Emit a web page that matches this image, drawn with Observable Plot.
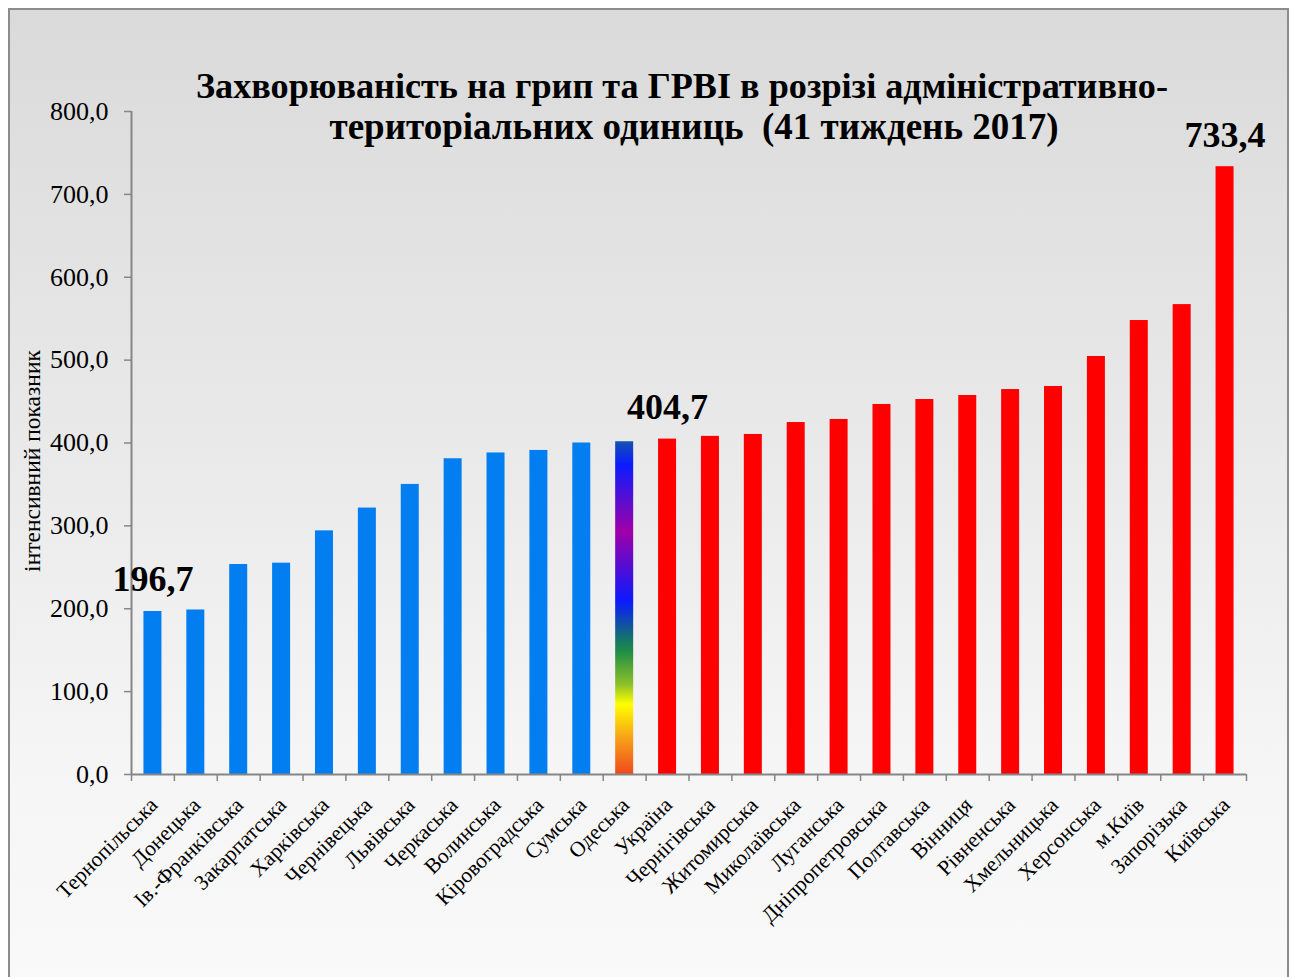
<!DOCTYPE html>
<html>
<head>
<meta charset="utf-8">
<script src="https://cdn.jsdelivr.net/npm/d3@7"></script>
<script src="https://cdn.jsdelivr.net/npm/@observablehq/plot@0.6"></script>
<style>
html, body { margin: 0; padding: 0; background: #ffffff; overflow: hidden; width: 1293px; height: 977px; }
#frame { position: absolute; left: 8px; top: 8px; width: 1277px; height: 1000px; border: 2px solid #8c8c8c;
  background: linear-gradient(to bottom, #dadada 0%, #e8e8e8 40%, #f5f5f5 75%, #fafafa 100%); }
#chart { position: absolute; left: 0; top: 0; }
#chart svg, #chart svg text { font-family: 'Liberation Serif', 'Times New Roman', serif; }
</style>
</head>
<body>
<div id="frame"></div>
<div id="chart"></div>
<script>
const categories = ["Тернопільська", "Донецька", "Ів.-Франківська", "Закарпатська", "Харківська", "Чернівецька",
  "Львівська", "Черкаська", "Волинська", "Кіровоградська", "Сумська", "Одеська", "Україна", "Чернігівська",
  "Житомирська", "Миколаївська", "Луганська", "Дніпропетровська", "Полтавська", "Вінниця", "Рівненська",
  "Хмельницька", "Херсонська", "м.Київ", "Запорізька", "Київська"];
const values = [196.7, 198.5, 253.4, 255.0, 294.0, 321.5, 350.0, 381.0, 388.0, 391.0, 400.0, 401.5, 404.7,
  408.0, 410.3, 424.7, 428.4, 446.5, 452.5, 457.3, 464.5, 468.2, 504.4, 547.8, 567.0, 733.4];
const groups = ["below", "below", "below", "below", "below", "below", "below", "below", "below", "below", "below",
  "odesa", "above", "above", "above", "above", "above", "above", "above", "above", "above", "above", "above",
  "above", "above", "above"];
const labelled = ["Тернопільська", "Україна", "Київська"];
const yTicks = [0, 100, 200, 300, 400, 500, 600, 700, 800];
const titleLines = ["Захворюваність на грип та ГРВІ в розрізі адміністративно-", "територіальних одиниць  (41 тиждень 2017)"];
const yTitle = "інтенсивний показник";

const data = categories.map((c, i) => ({region: c, value: values[i], group: groups[i]}));
const fmt = v => v.toFixed(1).replace(".", ",");

const W = 1293, H = 977, ML = 131, MR = 47, MT = 111, MB = 203;
const step = (W - ML - MR) / categories.length;
const barInset = (step - 18) / 2;
const axisColor = "#868686";
const serif = "'Liberation Serif', 'Times New Roman', serif";

function gradientDefs() {
  const defs = d3.create("svg:defs");
  const g = defs.append("linearGradient").attr("id", "rainbow")
    .attr("x1", 0).attr("y1", 0).attr("x2", 0).attr("y2", 1);
  [[0, "#1652b0"], [0.07, "#0a1cff"], [0.27, "#a000a8"], [0.48, "#0a1aff"], [0.59, "#157070"],
   [0.63, "#1e8c46"], [0.73, "#8cc02a"], [0.79, "#ffff00"], [0.90, "#f79a18"], [1, "#ee4a1c"]]
    .forEach(([o, c]) => g.append("stop").attr("offset", o).attr("stop-color", c));
  return defs.node();
}

const chart = Plot.plot({
  width: W, height: H,
  marginLeft: ML, marginRight: MR, marginTop: MT, marginBottom: MB,
  style: {background: "transparent", fontFamily: serif, color: "#000"},
  x: {type: "band", domain: categories, padding: 0, round: false, axis: null},
  y: {domain: [0, 800], axis: null},
  color: {type: "ordinal", domain: ["below", "odesa", "above"], range: ["#037ef0", "url(#rainbow)", "#ff0000"]},
  marks: [
    gradientDefs,
    Plot.barY(data, {x: "region", y: "value", fill: "group", insetLeft: barInset, insetRight: barInset}),
    Plot.ruleY([0], {stroke: axisColor, strokeWidth: 2}),
    Plot.ruleX([categories[0]], {x: d => d, y1: 0, y2: 800, dx: -step / 2, stroke: axisColor, strokeWidth: 2}),
    Plot.axisY({ticks: yTicks, tickFormat: fmt, tickSize: 7, tickPadding: 16, fontSize: 26, fontFamily: serif,
      stroke: axisColor, strokeWidth: 1.5, label: null}),
    Plot.axisX({tickSize: 7, tickFormat: () => "", dx: -step / 2, stroke: axisColor, strokeWidth: 1.5, label: null}),
    Plot.axisX([categories[categories.length - 1]], {tickSize: 7, tickFormat: () => "", dx: step / 2,
      stroke: axisColor, strokeWidth: 1.5, label: null}),
    Plot.axisX({tickSize: 0, tickPadding: 27, tickRotate: -45, fontSize: 21.5, fontFamily: serif, dx: 1, label: null}),
    Plot.text(data.filter(d => labelled.includes(d.region)), {x: "region", y: "value", text: d => fmt(d.value),
      dy: -20, lineAnchor: "bottom", fontSize: 36, fontWeight: "bold", fontFamily: serif, fill: "#000"}),
    Plot.text([titleLines[0]], {text: d => d, frameAnchor: "top", textAnchor: "middle", dx: -7, dy: -14,
      lineAnchor: "bottom", fontSize: 36.2, fontWeight: "bold", fontFamily: serif, fill: "#000"}),
    Plot.text([titleLines[1]], {text: d => d, frameAnchor: "top", textAnchor: "middle", dx: 5, dy: 27,
      lineAnchor: "bottom", fontSize: 37, fontWeight: "bold", fontFamily: serif, fill: "#000"}),
    Plot.text([yTitle], {text: d => d, frameAnchor: "left", textAnchor: "middle", rotate: -90, dx: -99, dy: 18,
      fontSize: 23.5, fontFamily: serif, fill: "#000"})
  ]
});
document.getElementById("chart").appendChild(chart);
</script>
</body>
</html>
